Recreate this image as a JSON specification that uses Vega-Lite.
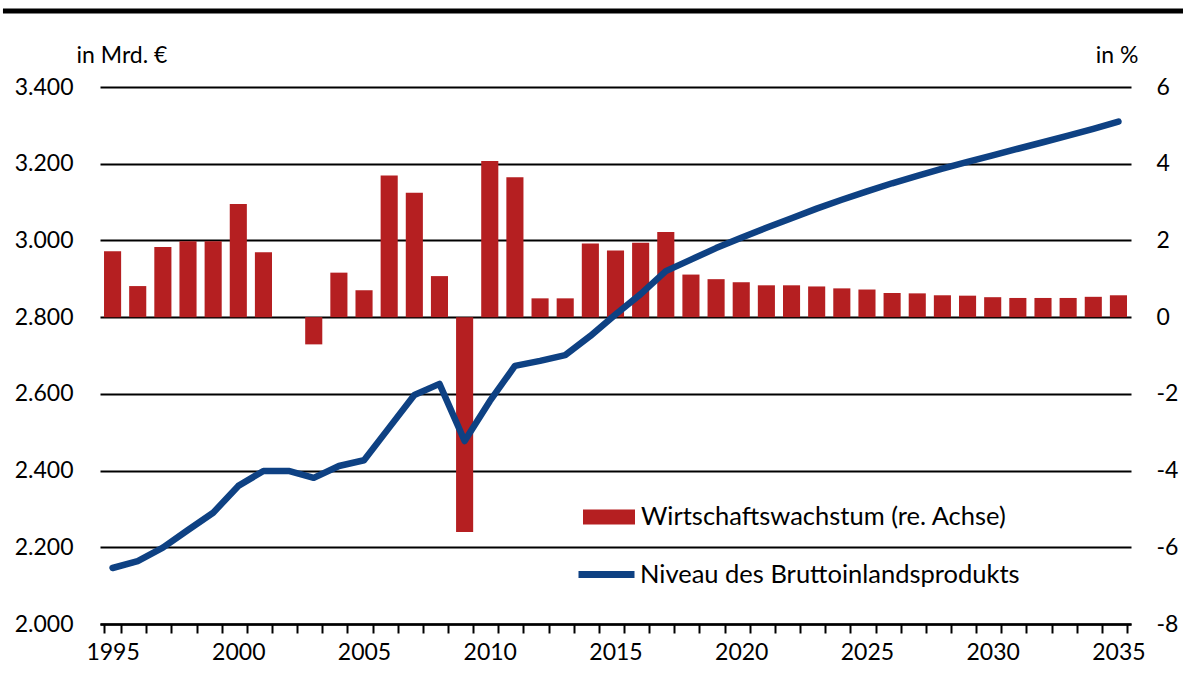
{
  "$schema": "https://vega.github.io/schema/vega-lite/v6.json",
  "background": "white",
  "padding": {"left": 0, "top": 8, "right": 0, "bottom": 0},
  "spacing": 30,
  "config": {
    "view": {"stroke": null},
    "font": "Lato",
    "axis": {"labelFont": "Lato", "titleFont": "Lato", "labelColor": "black", "titleColor": "black", "labelFontSize": 23, "titleFontSize": 23, "titleFontWeight": "normal"},
    "legend": {"labelFont": "Lato", "labelColor": "black", "labelFontSize": 25.5, "labelLimit": 0}
  },
  "resolve": {"scale": {"fill": "independent", "stroke": "independent"}, "legend": {"fill": "independent", "stroke": "independent"}},
  "vconcat": [
    {
      "width": 1083,
      "height": 4,
      "data": {"values": [{"line": 0, "start": -0.0896, "end": 1}]},
      "mark": {"type": "rule", "strokeWidth": 5, "color": "black", "clip": false},
      "encoding": {
        "x": {"field": "start", "type": "quantitative", "scale": {"domain": [0, 1]}, "axis": null},
        "x2": {"field": "end"},
        "y": {"field": "line", "type": "quantitative", "scale": {"domain": [-1, 1]}, "axis": null}
      }
    },
    {
      "width": 1031,
      "height": 537,
      "data": {"values": [
        {"year": 1995, "growth": 1.72, "gdp": 2146},
        {"year": 1996, "growth": 0.81, "gdp": 2164},
        {"year": 1997, "growth": 1.83, "gdp": 2199},
        {"year": 1998, "growth": 1.98, "gdp": 2245},
        {"year": 1999, "growth": 1.98, "gdp": 2290},
        {"year": 2000, "growth": 2.95, "gdp": 2360},
        {"year": 2001, "growth": 1.69, "gdp": 2399},
        {"year": 2002, "growth": 0.0, "gdp": 2399},
        {"year": 2003, "growth": -0.71, "gdp": 2381},
        {"year": 2004, "growth": 1.16, "gdp": 2412},
        {"year": 2005, "growth": 0.70, "gdp": 2427},
        {"year": 2006, "growth": 3.69, "gdp": 2512},
        {"year": 2007, "growth": 3.24, "gdp": 2597},
        {"year": 2008, "growth": 1.07, "gdp": 2626},
        {"year": 2009, "growth": -5.60, "gdp": 2477},
        {"year": 2010, "growth": 4.07, "gdp": 2581},
        {"year": 2011, "growth": 3.65, "gdp": 2673},
        {"year": 2012, "growth": 0.49, "gdp": 2686},
        {"year": 2013, "growth": 0.49, "gdp": 2701},
        {"year": 2014, "growth": 1.92, "gdp": 2751},
        {"year": 2015, "growth": 1.74, "gdp": 2807},
        {"year": 2016, "growth": 1.94, "gdp": 2860},
        {"year": 2017, "growth": 2.22, "gdp": 2920},
        {"year": 2018, "growth": 1.11, "gdp": 2950},
        {"year": 2019, "growth": 0.99, "gdp": 2980},
        {"year": 2020, "growth": 0.91, "gdp": 3007},
        {"year": 2021, "growth": 0.83, "gdp": 3033},
        {"year": 2022, "growth": 0.83, "gdp": 3058},
        {"year": 2023, "growth": 0.80, "gdp": 3083},
        {"year": 2024, "growth": 0.75, "gdp": 3106},
        {"year": 2025, "growth": 0.72, "gdp": 3128},
        {"year": 2026, "growth": 0.63, "gdp": 3149},
        {"year": 2027, "growth": 0.62, "gdp": 3168},
        {"year": 2028, "growth": 0.57, "gdp": 3187},
        {"year": 2029, "growth": 0.56, "gdp": 3205},
        {"year": 2030, "growth": 0.52, "gdp": 3222},
        {"year": 2031, "growth": 0.50, "gdp": 3239},
        {"year": 2032, "growth": 0.50, "gdp": 3256},
        {"year": 2033, "growth": 0.50, "gdp": 3273},
        {"year": 2034, "growth": 0.53, "gdp": 3291},
        {"year": 2035, "growth": 0.57, "gdp": 3310}
      ]},
      "encoding": {
        "x": {
          "field": "year", "type": "ordinal", "title": null,
          "scale": {"paddingInner": 0.32, "paddingOuter": 0.16},
          "axis": {
            "tickBand": "extent", "tickSize": 9, "tickWidth": 2, "tickColor": "black",
            "domainColor": "black", "domainWidth": 2.5,
            "labelExpr": "datum.value % 5 == 0 ? datum.label : ''",
            "labelAngle": 0, "labelPadding": 8, "labelOverlap": false, "grid": false
          }
        }
      },
      "layer": [
        {
          "mark": {"type": "bar", "strokeWidth": 0},
          "encoding": {
            "y": {
              "field": "growth", "type": "quantitative",
              "scale": {"domain": [-8, 6], "nice": false},
              "axis": {
                "orient": "right", "values": [-8, -6, -4, -2, 0, 2, 4, 6],
                "grid": false, "domain": false, "ticks": false, "labelPadding": 25,
                "labelExpr": "datum.value < 0 ? '-' + abs(datum.value) : '' + datum.value",
                "title": "in %", "titleAngle": 0, "titleAlign": "right", "titleBaseline": "alphabetic",
                "titleX": 7, "titleY": -25
              }
            },
            "fill": {
              "datum": "Wirtschaftswachstum (re. Achse)", "type": "nominal",
              "scale": {"range": ["#b51f21"]},
              "legend": {
                "orient": "none", "legendX": 483, "legendY": 404, "title": null, "padding": 0,
                "symbolType": "M-1,-0.29H1V0.29H-1Z", "symbolSize": 2704, "symbolStrokeWidth": 0,
                "labelOffset": 6
              }
            }
          }
        },
        {
          "mark": {"type": "line", "strokeWidth": 6.5, "strokeJoin": "round", "strokeCap": "round"},
          "encoding": {
            "y": {
              "field": "gdp", "type": "quantitative",
              "scale": {"domain": [2000, 3400], "nice": false, "zero": false},
              "axis": {
                "orient": "left", "values": [2000, 2200, 2400, 2600, 2800, 3000, 3200, 3400],
                "grid": true, "gridColor": "black", "gridWidth": 2,
                "domain": false, "ticks": false, "labelPadding": 27,
                "labelExpr": "replace(format(datum.value, ','), ',', '.')",
                "title": "in Mrd. €", "titleAngle": 0, "titleAlign": "left", "titleBaseline": "alphabetic",
                "titleX": -24, "titleY": -25
              }
            },
            "stroke": {
              "datum": "Niveau des Bruttoinlandsprodukts", "type": "nominal",
              "scale": {"range": ["#0e4183"]},
              "legend": {
                "orient": "none", "legendX": 475, "legendY": 456, "title": null, "padding": 0,
                "symbolType": "stroke", "symbolSize": 3136, "symbolStrokeWidth": 7,
                "labelOffset": 2
              }
            }
          }
        }
      ],
      "resolve": {"scale": {"y": "independent"}}
    }
  ]
}
